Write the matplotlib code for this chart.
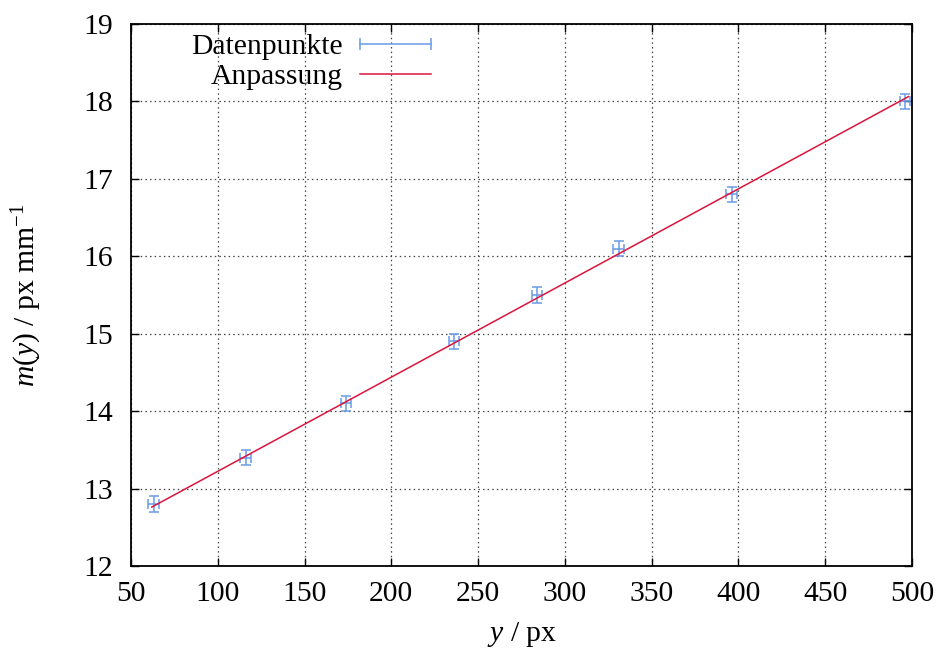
import matplotlib
matplotlib.use("Agg")
import matplotlib.pyplot as plt
from matplotlib.lines import Line2D
import numpy as np

plt.rcParams['font.family'] = ['Liberation Serif', 'DejaVu Serif']
plt.rcParams['mathtext.fontset'] = 'custom'
plt.rcParams['mathtext.rm'] = 'Liberation Serif'
plt.rcParams['mathtext.it'] = 'Liberation Serif:italic'
plt.rcParams['mathtext.bf'] = 'Liberation Serif:bold'

# data
y_px = [63, 116, 174, 236, 284, 331, 396, 496]
m_vals = [12.8, 13.4, 14.1, 14.9, 15.5, 16.1, 16.8, 18.0]
x_err = [3, 3, 3, 3, 3, 3, 3, 3]
m_err = [0.1, 0.1, 0.1, 0.1, 0.1, 0.1, 0.1, 0.1]
fit_slope = 0.01216
fit_intercept = 12.007
fit_range = [62, 498]
x_ticks = [50, 100, 150, 200, 250, 300, 350, 400, 450, 500]
y_ticks = [12, 13, 14, 15, 16, 17, 18, 19]

blue = '#6a9bea'
red = '#dc143c'
fs = 21.3

fig = plt.figure(figsize=(9.42, 6.56), dpi=100)
ax = fig.add_axes([131/942, 1-566/656, (912-131)/942, (566-24)/656])

ax.errorbar(y_px, m_vals, xerr=x_err, yerr=m_err, fmt='none', ecolor=blue,
            elinewidth=1.1, capsize=3.5, capthick=1.1, zorder=3)
xf = np.linspace(fit_range[0], fit_range[1], 200)
ax.plot(xf, fit_slope * xf + fit_intercept, color=red, lw=1.1, zorder=4)

ax.set_xlim(50, 500)
ax.set_ylim(12, 19)
ax.set_xticks(x_ticks)
ax.set_yticks(y_ticks)
ax.tick_params(direction='in', length=6, width=1.0, top=True, right=True,
               labelsize=fs)
ax.tick_params(axis='y', pad=13)
ax.tick_params(axis='x', pad=11)
ax.grid(True, color='#444444', linestyle=(0, (1.2, 2.5)), linewidth=0.9)
for s in ax.spines.values():
    s.set_linewidth(1.3)

ax.set_xlabel('$y$ / px', fontsize=fs)
ax.set_ylabel('$m(y)$ / px mm$^{-1}$', fontsize=fs)
ax.xaxis.set_label_coords(0.5, -0.100)
ax.yaxis.set_label_coords(-0.111, 0.5)

h1 = Line2D([], [], color=blue, lw=1.1, marker='|', markersize=9, markeredgewidth=1.1)
h2 = Line2D([], [], color=red, lw=1.1)
leg = ax.legend([h1, h2], ['Datenpunkte', 'Anpassung'], loc='upper right',
                bbox_to_anchor=(0.396, 0.983), frameon=False, markerfirst=False,
                numpoints=2, fontsize=fs, handlelength=3.0, handletextpad=0.3,
                borderpad=0, borderaxespad=0, labelspacing=0.12)
for t in leg.get_texts():
    t.set_ha('right')

fig.savefig('out.png', dpi=100)
